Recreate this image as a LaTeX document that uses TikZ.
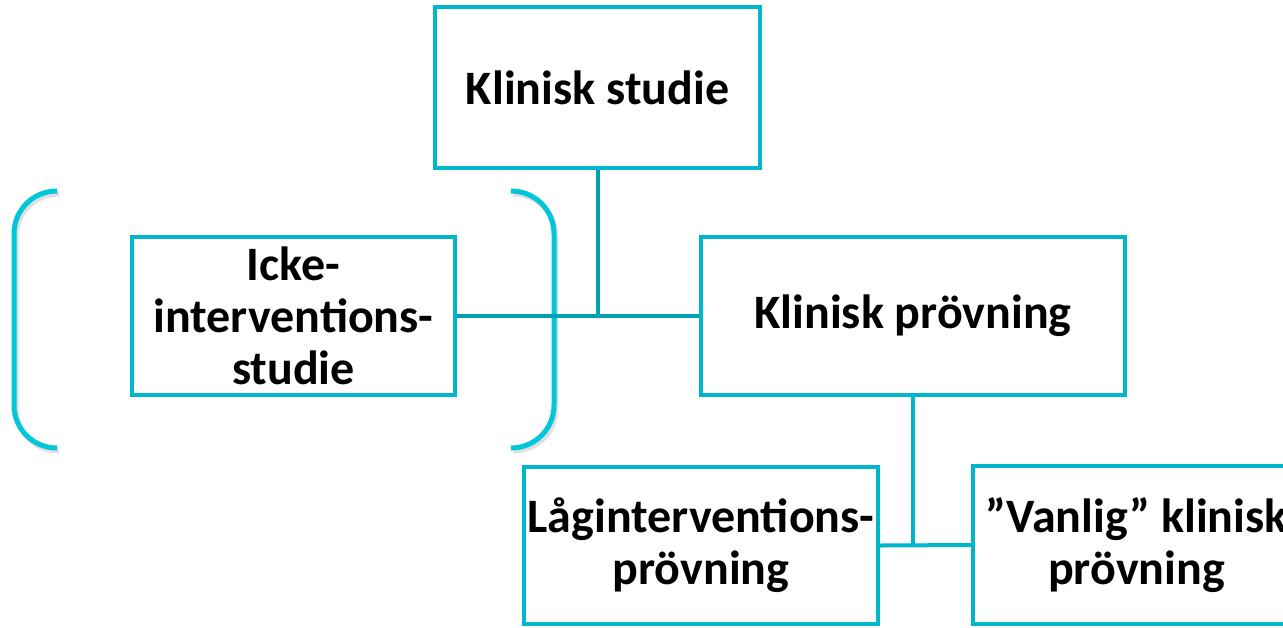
\documentclass[tikz,border=0pt]{standalone}
\usepackage{fontspec}
\setmainfont{Carlito}
\definecolor{boxc}{RGB}{0,182,202}
\definecolor{linec}{RGB}{0,160,178}
\definecolor{brc}{RGB}{0,198,218}
\tikzset{
  box/.style={draw=boxc, line width=2pt, rectangle, inner sep=0pt, align=center,
    font=\fontsize{24}{26}\selectfont\bfseries, text=black},
  conn/.style={draw=linec, line width=2pt},
  conn2/.style={draw=boxc, line width=2pt},
  brk/.style={draw=brc, line width=2.5pt, line cap=butt},
  brkshadow/.style={draw=black!25, line width=2.5pt, opacity=0.5}
}
\begin{document}
\begin{tikzpicture}[x=0.5pt,y=-0.5pt]
\useasboundingbox (0,0) rectangle (1283,627);
\clip (0,0) rectangle (1283,627);
% bracket shadows
\begin{scope}[shift={(2,3)}]
\draw[brkshadow] (57,191) .. controls (33,191) and (14,210) .. (14,234) -- (14,405) .. controls (14,429) and (33,448) .. (57,448);
\draw[brkshadow] (511,191) .. controls (535,191) and (554,210) .. (554,234) -- (554,405) .. controls (554,429) and (535,448) .. (511,448);
\end{scope}
% brackets
\draw[brk] (57,191) .. controls (33,191) and (14,210) .. (14,234) -- (14,405) .. controls (14,429) and (33,448) .. (57,448);
\draw[brk] (511,191) .. controls (535,191) and (554,210) .. (554,234) -- (554,405) .. controls (554,429) and (535,448) .. (511,448);
% boxes
\node[box, minimum width=325*0.5pt, minimum height=161*0.5pt] (ks) at (597.5,87.5) {Klinisk studie};
\node[box, minimum width=323*0.5pt, minimum height=158*0.5pt] (icke) at (293.5,316) {Icke-\\interventions-\\studie};
\node[box, minimum width=424*0.5pt, minimum height=158*0.5pt] (kp) at (913,316) {Klinisk prövning};
\node[box, minimum width=354*0.5pt, minimum height=157*0.5pt] (lag) at (701,545.5) {Låginterventions-\\prövning};
\node[box, minimum width=327*0.5pt, minimum height=158*0.5pt] (van) at (1136.5,545) {”Vanlig” klinisk\\prövning};
% connectors
\coordinate (j1) at (ks.south |- icke.east);
\coordinate (j2) at (kp.south |- lag.east);
\draw[conn] (ks.south) -- (j1);
\draw[conn] (icke.east) -- (kp.west);
\draw[conn2] (kp.south) -- (j2);
\draw[conn2] (lag.east) -- (van.west);
\end{tikzpicture}
\end{document}
